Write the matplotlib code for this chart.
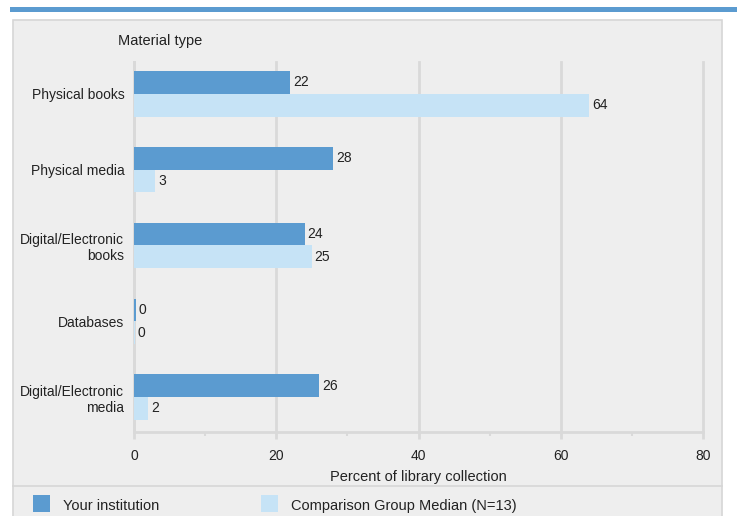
import numpy as np
import matplotlib.pyplot as plt
from matplotlib.patches import Rectangle
from matplotlib.lines import Line2D

plt.rcParams['font.family'] = ['Liberation Sans', 'DejaVu Sans']

categories = ['Physical books', 'Physical media', 'Digital/Electronic\nbooks',
              'Databases', 'Digital/Electronic\nmedia']
yours = [22, 28, 24, 0.3, 26]
yours_labels = ['22', '28', '24', '0', '26']
median = [64, 3, 25, 0.1, 2]
median_labels = ['64', '3', '25', '0', '2']
series_names = ['Your institution', 'Comparison Group Median (N=13)']

dark = '#5b9bd0'
light = '#c6e3f6'
panel = '#eeeeee'
grid = '#d9d9d9'

W, H = 737, 516
fig = plt.figure(figsize=(W / 100, H / 100), dpi=100)
fig.patch.set_facecolor('white')

def fx(px):
    return px / W

def fy(py):
    return 1 - py / H

# top blue band and grey panel
fig.patches.append(Rectangle((fx(10), fy(12)), fx(727), 5 / H, transform=fig.transFigure,
                             facecolor=dark, edgecolor='none', zorder=-10))
fig.patches.append(Rectangle((fx(13), fy(530)), fx(709), 510 / H, transform=fig.transFigure,
                             facecolor=panel, edgecolor='#d6d6d6', linewidth=1.2, zorder=-10))
fig.lines.append(Line2D([fx(13), fx(722)], [fy(486), fy(486)], transform=fig.transFigure,
                        color='#d6d6d6', linewidth=1.2, zorder=-5))

ax = fig.add_axes([fx(134), fy(432), fx(703 - 134), (432 - 62) / H])
ax.set_facecolor('none')

y = np.arange(len(categories))
h = 0.3
ax.barh(y - h / 2, yours, height=h, color=dark, zorder=3)
ax.barh(y + h / 2, median, height=h, color=light, zorder=3)

for i in range(len(categories)):
    ax.text(yours[i] + 0.4, y[i] - h / 2, yours_labels[i], va='center', ha='left', fontsize=10, color='#222222')
    ax.text(median[i] + 0.4, y[i] + h / 2, median_labels[i], va='center', ha='left', fontsize=10, color='#222222')

ax.set_xlim(0, 80)
ax.set_ylim(4.46, -0.42)
ax.set_yticks(y)
ax.set_yticklabels(categories, fontsize=10, color='#222222', multialignment='right')
ax.set_xticks([0, 20, 40, 60, 80])
ax.set_xticks([10, 30, 50, 70], minor=True)
ax.tick_params(axis='y', length=0, pad=7)
ax.tick_params(axis='x', which='major', length=5, width=2, color=grid, labelsize=10, labelcolor='#222222', pad=7)
ax.tick_params(axis='x', which='minor', length=3, width=1.5, color=grid)
ax.xaxis.grid(True, color=grid, linewidth=2, zorder=0)
for gl in ax.get_xgridlines():
    gl.set_clip_on(False)
ax.set_axisbelow(True)
for s in ['top', 'right']:
    ax.spines[s].set_visible(False)
for s in ['left', 'bottom']:
    ax.spines[s].set_color(grid)
    ax.spines[s].set_linewidth(2)
ax.set_xlabel('Percent of library collection', fontsize=10.5, color='#222222', labelpad=5)

fig.text(fx(118), fy(41), 'Material type', fontsize=10.5, va='center', ha='left', color='#222222')

# legend
fig.patches.append(Rectangle((fx(33), fy(512)), fx(17), 17 / H, transform=fig.transFigure,
                             facecolor=dark, edgecolor='none'))
fig.text(fx(63), fy(506), series_names[0], fontsize=10.5, va='center', ha='left', color='#222222')
fig.patches.append(Rectangle((fx(261), fy(512)), fx(17), 17 / H, transform=fig.transFigure,
                             facecolor=light, edgecolor='none'))
fig.text(fx(291), fy(506), series_names[1], fontsize=10.5, va='center', ha='left', color='#222222')

fig.savefig('out.png', dpi=100)
